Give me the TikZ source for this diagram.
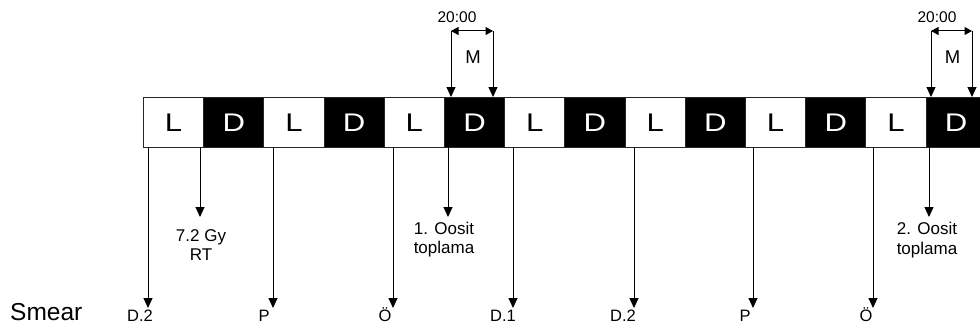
\documentclass[tikz,border=0pt]{standalone}
\usepackage{fontspec}
\usepackage{graphicx}
\setmainfont{Liberation Sans}
\usetikzlibrary{arrows.meta}

\begin{document}
\begin{tikzpicture}[x=1pt,y=-1pt,
  cell/.style={draw=black!85, line width=0.9pt, minimum width=60.2pt,
    minimum height=50pt, inner sep=0pt, anchor=north west,
    font=\fontsize{25.5}{28}\selectfont},
  lightcell/.style={cell, fill=white, text=black},
  darkcell/.style={cell, fill=black, text=white},
  arr/.style={line width=1pt, -{Triangle[length=10pt,width=9pt]}},
  dbl/.style={line width=1pt,
    {Triangle[length=7.5pt,width=8pt]}-{Triangle[length=7.5pt,width=8pt]}},
  smearlabel/.style={font=\fontsize{16.5}{19}\selectfont, anchor=base, inner sep=0pt},
  note/.style={font=\fontsize{17}{19.5}\selectfont, align=center, anchor=north, inner sep=0pt},
  clock/.style={font=\fontsize{15.5}{18}\selectfont, anchor=base, inner sep=0pt},
  mlabel/.style={font=\fontsize{18.5}{22}\selectfont, anchor=base, inner sep=0pt}
]
\useasboundingbox (0,0) rectangle (980,329);
\clip (0,0) rectangle (980,329);

% light / dark cycle bar
\foreach \i/\s/\t in {0/lightcell/L,1/darkcell/D,2/lightcell/L,3/darkcell/D,
                      4/lightcell/L,5/darkcell/D,6/lightcell/L,7/darkcell/D,
                      8/lightcell/L,9/darkcell/D,10/lightcell/L,11/darkcell/D,
                      12/lightcell/L,13/darkcell/D}
  \node[\s] (c\i) at ({143+60.2*\i},97) {\scalebox{1.22}[1]{\t}};

% mating windows above the dark phases
\foreach \n/\xa/\xb/\cell in {1/451/493/c5, 2/931/972/c13} {
  \coordinate (ml\n) at (\xa,31);
  \coordinate (mr\n) at (\xb,31);
  \draw[dbl] (ml\n) -- (mr\n);
  \draw[arr] (ml\n) -- (ml\n |- \cell.north);
  \draw[arr] (mr\n) -- (mr\n |- \cell.north);
  \node[clock] (clk\n) at ({\xa+6},23) {20:00};
  \node[mlabel] (m\n) at ({(\xa+\xb)/2+1},63.5) {M};
}

% smear sampling points
\node[font=\fontsize{24.5}{27}\selectfont, anchor=base west, inner sep=0pt] (smear) at (10,320) {Smear};
\foreach \n/\x/\lx/\lab in {1/148/140/D.2, 2/273/264/P, 3/393/385/Ö, 4/513/503/D.1,
                            5/634/623/D.2, 6/753/745/P, 7/873/866/Ö} {
  \coordinate (s\n) at (\x,147);
  \coordinate (e\n) at (\x,308);
  \draw[arr] (s\n) -- (e\n);
  \node[smearlabel] (l\n) at (\lx,321.5) {\lab};
}

% irradiation and oocyte collection
\coordinate (rt0) at (200,147);
\coordinate (rt1) at (200,217);
\draw[arr] (rt0) -- (rt1);
\node[note] (rt) at (201,229) {7.2 Gy\\RT};

\coordinate (o1a) at (448,147);
\coordinate (o1b) at (448,217);
\draw[arr] (o1a) -- (o1b);
\node[note] (oo1) at (444,221.5) {1. Oosit\\toplama};

\coordinate (o2a) at (929,147);
\coordinate (o2b) at (929,217);
\draw[arr] (o2a) -- (o2b);
\node[note] (oo2) at (927,222) {2. Oosit\\toplama};
\end{tikzpicture}
\end{document}
